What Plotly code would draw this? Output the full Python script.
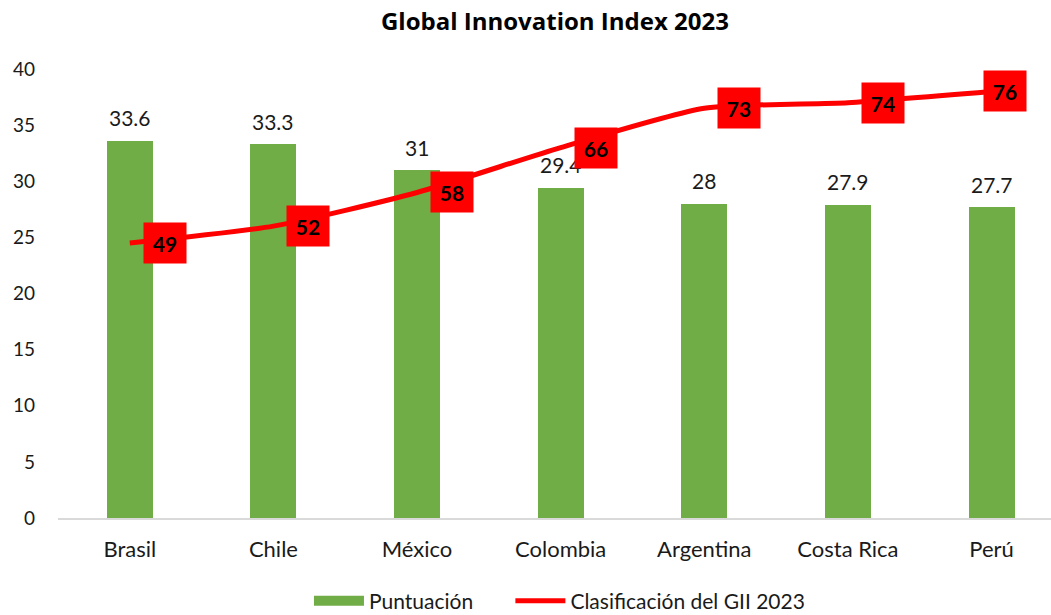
import plotly.graph_objects as go

countries = ["Brasil", "Chile", "México", "Colombia", "Argentina", "Costa Rica", "Perú"]
puntuacion = [33.6, 33.3, 31, 29.4, 28, 27.9, 27.7]
clasificacion = [49, 52, 58, 66, 73, 74, 76]
y_ticks = [0, 5, 10, 15, 20, 25, 30, 35, 40]

FONT = "Lato"
TXT = "#1a1a1a"
GREEN = "#70AD47"
RED = "#FF0000"
x_idx = list(range(len(countries)))

fig = go.Figure()
fig.add_trace(go.Bar(
    x=x_idx, y=puntuacion, name="Puntuación",
    marker=dict(color=GREEN, line=dict(width=0)),
    width=0.32, yaxis="y", showlegend=False,
))
# legend entry for bars drawn as a wide block
fig.add_trace(go.Scatter(
    x=[None], y=[None], name="Puntuación" + "\u00a0" * 6, mode="lines",
    line=dict(color=GREEN, width=15), yaxis="y",
))
fig.add_trace(go.Scatter(
    x=x_idx, y=clasificacion, name="Clasificación del GII 2023",
    mode="lines", line=dict(color=RED, width=5, shape="spline", smoothing=0.6),
    yaxis="y2",
))

annotations = []
for i, v in enumerate(puntuacion):
    annotations.append(dict(
        x=i, y=v, xref="x", yref="y", text=f"{v:g}", showarrow=False,
        yshift=23, font=dict(family=FONT, size=21, color=TXT),
    ))
for i, v in enumerate(clasificacion):
    shift = 35 if i < len(clasificacion) - 1 else 13
    annotations.append(dict(
        x=i, y=v, xref="x", yref="y2", text=f"<b>{v}</b>", showarrow=False,
        xshift=shift, bgcolor=RED, width=40, height=38,
        font=dict(family=FONT, size=21, color="#000000"),
    ))

fig.update_layout(
    width=1051, height=615,
    margin=dict(l=58, r=0, t=69, b=97),
    paper_bgcolor="white", plot_bgcolor="white",
    title=dict(text="<b>Global Innovation Index 2023</b>", x=0.528, xanchor="center",
               y=1 - 22 / 615, yanchor="middle",
               font=dict(family="Open Sans", size=24, color="#000000")),
    xaxis=dict(
        tickmode="array", tickvals=x_idx, ticktext=countries,
        range=[-0.5, 6.414], showgrid=False, zeroline=False,
        showline=True, linecolor="#d9d9d9", linewidth=1.5,
        ticks="", tickfont=dict(family=FONT, size=22, color=TXT),
        ticklabelstandoff=11,
    ),
    yaxis=dict(
        range=[0, 40], tickvals=y_ticks, showgrid=False, zeroline=False,
        showline=False, ticks="", tickfont=dict(family=FONT, size=19, color=TXT),
        ticklabelstandoff=22,
    ),
    yaxis2=dict(range=[0, 80], overlaying="y", side="right", visible=False),
    showlegend=True,
    legend=dict(orientation="h", x=0.505, xanchor="center",
                yref="container", y=1 - 601 / 615, yanchor="middle",
                font=dict(family=FONT, size=21, color=TXT), itemwidth=50,
                traceorder="normal"),
    annotations=annotations,
    bargap=0,
)

fig.write_html("out.html")
